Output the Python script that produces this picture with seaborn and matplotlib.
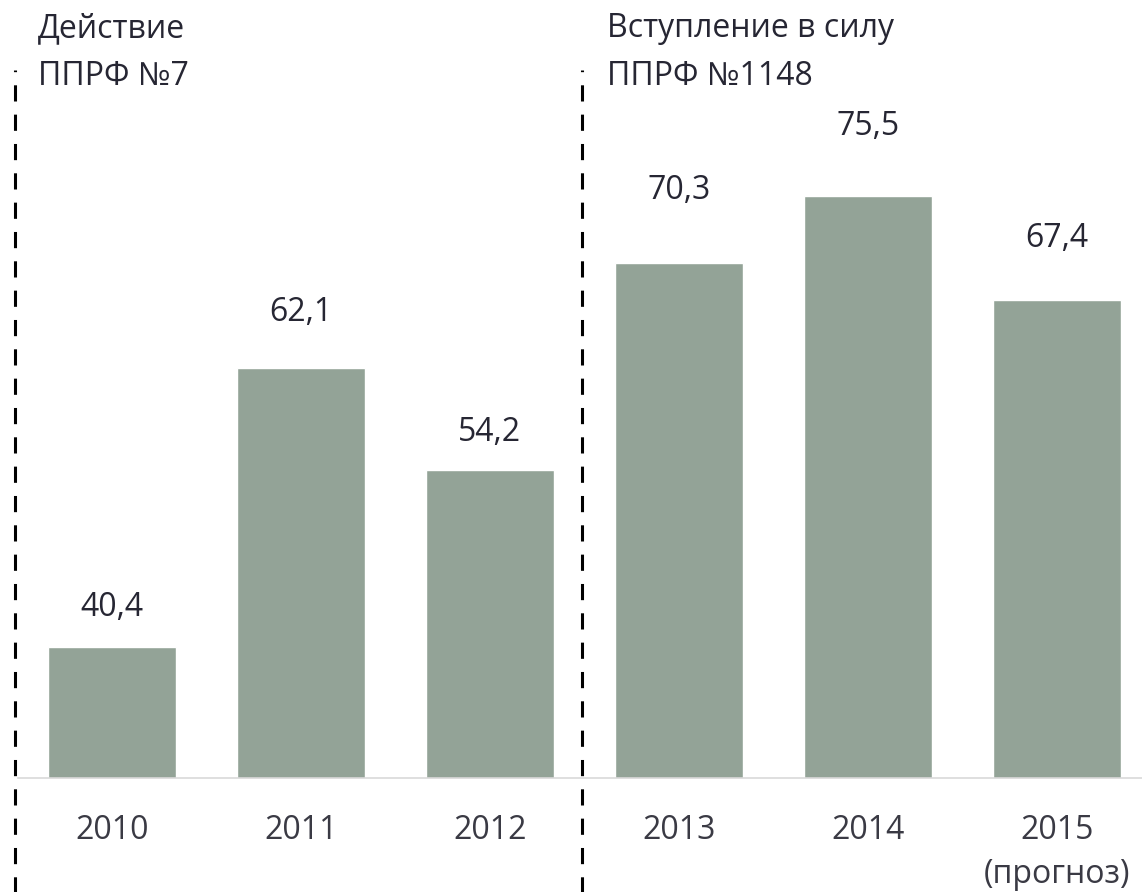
import matplotlib
matplotlib.use("Agg")
import matplotlib.pyplot as plt
import seaborn as sns
import pandas as pd

years = ["2010", "2011", "2012", "2013", "2014", "2015"]
tick_labels = ["2010", "2011", "2012", "2013", "2014", "2015\n(прогноз)"]
values = [40.4, 62.1, 54.2, 70.3, 75.5, 67.4]
value_labels = ["40,4", "62,1", "54,2", "70,3", "75,5", "67,4"]
label_offsets = [3.1, 4.3, 2.9, 5.6, 5.4, 4.8]
header_left = "Действие\nППРФ №7"
header_right = "Вступление в силу\nППРФ №1148"

sns.set_theme(style="white")
plt.rcParams["font.family"] = ["Open Sans", "DejaVu Sans"]

W, H = 1142, 892
fig = plt.figure(figsize=(W / 100, H / 100), dpi=100)
ax_left = 17.5 / W
ax_bottom = (H - 778) / H
ax_w = 1124.5 / W
ax_h = 640 / H
ax = fig.add_axes([ax_left, ax_bottom, ax_w, ax_h])

df = pd.DataFrame({"year": years, "value": values})
bar_color = "#93a397"
sns.barplot(data=df, x="year", y="value", color=bar_color, width=0.68,
            saturation=1, ax=ax)

ax.set_xlim(-0.5, 5.45)
ax.set_ylim(30.2, 80)

txt_color = "#262633"
for i, (v, lab, off) in enumerate(zip(values, value_labels, label_offsets)):
    ax.text(i, v + off, lab, ha="center", va="center", fontsize=23,
            color=txt_color)

for s in ["top", "right", "left"]:
    ax.spines[s].set_visible(False)
ax.spines["bottom"].set_color("#d9d9d9")
ax.spines["bottom"].set_linewidth(1.2)
ax.set_yticks([])
ax.set_xlabel("")
ax.set_ylabel("")
ax.set_xticks(range(len(years)))
ax.set_xticklabels(tick_labels, fontsize=23, color="#3a3a44")
ax.tick_params(axis="x", length=0, pad=26)
for t in ax.get_xticklabels():
    t.set_linespacing(1.45)

# dashed separators
for xv in (-0.513, 2.487):
    ax.axvline(xv, ymin=-0.18, ymax=1.106, color="black", lw=2.2,
               dashes=(5.3, 4.3), clip_on=False)

fig.text(38 / W, 1 - 12 / H, header_left, ha="left", va="top", fontsize=23,
         color=txt_color, linespacing=1.6)
fig.text(607 / W, 1 - 12 / H, header_right, ha="left", va="top", fontsize=23,
         color=txt_color, linespacing=1.6)

fig.savefig("out.png", dpi=100)
